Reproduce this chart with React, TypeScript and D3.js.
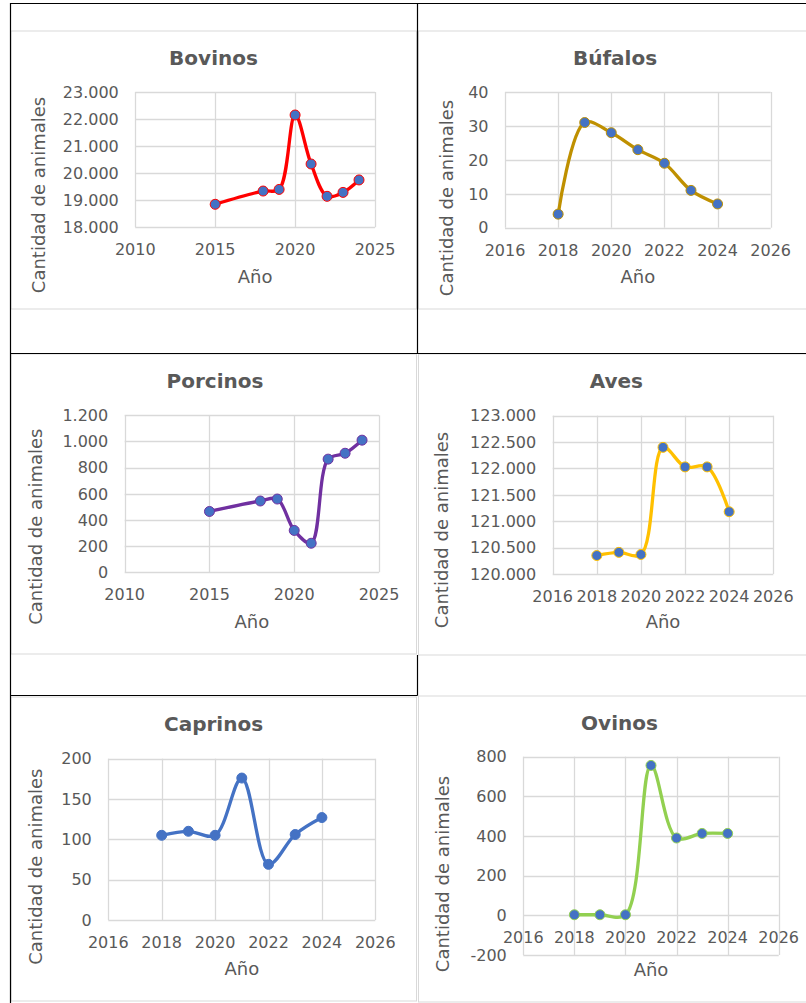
import React from "react";
import * as d3 from "d3";

// ---------- DATA ----------
const bovinosYears = [2015, 2018, 2019, 2020, 2021, 2022, 2023, 2024];
const bovinosValues = [18850, 19340, 19400, 22150, 20340, 19145, 19290, 19750];
const bovinosXTicks = [2010, 2015, 2020, 2025];
const bovinosYTicks = [18000, 19000, 20000, 21000, 22000, 23000];

const bufalosYears = [2018, 2019, 2020, 2021, 2022, 2023, 2024];
const bufalosValues = [4, 31, 28, 23, 19, 11, 7];
const bufalosXTicks = [2016, 2018, 2020, 2022, 2024, 2026];
const bufalosYTicks = [0, 10, 20, 30, 40];

const porcinosYears = [2015, 2018, 2019, 2020, 2021, 2022, 2023, 2024];
const porcinosValues = [465, 545, 560, 320, 222, 865, 910, 1010];
const porcinosXTicks = [2010, 2015, 2020, 2025];
const porcinosYTicks = [0, 200, 400, 600, 800, 1000, 1200];

const avesYears = [2018, 2019, 2020, 2021, 2022, 2023, 2024];
const avesValues = [120350, 120410, 120370, 122400, 122030, 122030, 121180];
const avesXTicks = [2016, 2018, 2020, 2022, 2024, 2026];
const avesYTicks = [120000, 120500, 121000, 121500, 122000, 122500, 123000];

const caprinosYears = [2018, 2019, 2020, 2021, 2022, 2023, 2024];
const caprinosValues = [105, 110, 105, 176, 69, 106, 127];
const caprinosXTicks = [2016, 2018, 2020, 2022, 2024, 2026];
const caprinosYTicks = [0, 50, 100, 150, 200];

const ovinosYears = [2018, 2019, 2020, 2021, 2022, 2023, 2024];
const ovinosValues = [3, 3, 3, 756, 390, 413, 413];
const ovinosXTicks = [2016, 2018, 2020, 2022, 2024, 2026];
const ovinosYTicks = [-200, 0, 200, 400, 600, 800];

const titles = ["Bovinos", "Búfalos", "Porcinos", "Aves", "Caprinos", "Ovinos"];
const xAxisTitle = "Año";
const yAxisTitle = "Cantidad de animales";

// ---------- STYLE / LAYOUT ----------
const FONT = "'DejaVu Sans', Verdana, sans-serif";
const TEXT = "#595959";
const GRID = "#d9d9d9";
const MARKER = "#4472c4";

const locale = d3.formatLocale({ decimal: ",", thousands: ".", grouping: [3], currency: ["", ""], minus: "-" });
const fmtY = locale.format(",d");
const fmtX = d3.format("d");

type Cfg = {
  title: string;
  years: number[];
  values: number[];
  xTicks: number[];
  yTicks: number[];
  color: string;
  box: [number, number, number, number];
  plot: [number, number, number, number];
  titlePos: [number, number];
  xTitleY: number;
  yTitlePos: [number, number];
};

const charts: Cfg[] = [
  {
    title: titles[0], years: bovinosYears, values: bovinosValues, xTicks: bovinosXTicks, yTicks: bovinosYTicks,
    color: "#ff0000", box: [11, 31, 416.5, 309], plot: [135.3, 92, 375, 227.3],
    titlePos: [213.5, 65], xTitleY: 283, yTitlePos: [44.5, 195],
  },
  {
    title: titles[1], years: bufalosYears, values: bufalosValues, xTicks: bufalosXTicks, yTicks: bufalosYTicks,
    color: "#bf9000", box: [418.5, 31, 812, 309], plot: [505, 92, 770.7, 227.7],
    titlePos: [615, 65], xTitleY: 283, yTitlePos: [452.5, 198],
  },
  {
    title: titles[2], years: porcinosYears, values: porcinosValues, xTicks: porcinosXTicks, yTicks: porcinosYTicks,
    color: "#7030a0", box: [11, 354, 416.5, 654], plot: [124.7, 415.3, 379, 572.3],
    titlePos: [215, 388], xTitleY: 627.7, yTitlePos: [41.5, 526.7],
  },
  {
    title: titles[3], years: avesYears, values: avesValues, xTicks: avesXTicks, yTicks: avesYTicks,
    color: "#ffc000", box: [418.5, 354, 812, 655], plot: [552.7, 415.7, 773.3, 574],
    titlePos: [616.3, 388], xTitleY: 628.3, yTitlePos: [448, 530],
  },
  {
    title: titles[4], years: caprinosYears, values: caprinosValues, xTicks: caprinosXTicks, yTicks: caprinosYTicks,
    color: "#4472c4", box: [11, 697, 416.5, 1001], plot: [108.3, 758.7, 375.3, 920],
    titlePos: [213.5, 731], xTitleY: 975, yTitlePos: [41.5, 866.7],
  },
  {
    title: titles[5], years: ovinosYears, values: ovinosValues, xTicks: ovinosXTicks, yTicks: ovinosYTicks,
    color: "#92d050", box: [418.5, 696, 812, 1002], plot: [523.3, 756.7, 778.7, 955],
    titlePos: [619.5, 730], xTitleY: 975.7, yTitlePos: [449, 874],
  },
];

function Chart({ c }: { c: Cfg }) {
  const [l, t, r, b] = c.plot;
  const x = d3.scaleLinear().domain([c.xTicks[0], c.xTicks[c.xTicks.length - 1]]).range([l, r]);
  const y = d3.scaleLinear().domain([c.yTicks[0], c.yTicks[c.yTicks.length - 1]]).range([b, t]);
  const pts: [number, number][] = c.years.map((yr, i) => [x(yr), y(c.values[i])]);
  const line = d3.line().curve(d3.curveCatmullRom.alpha(0.5))(pts) || "";
  const crossY = c.yTicks[0] < 0 ? y(0) : b;
  const [bx0, by0, bx1, by1] = c.box;
  return (
    <g>
      <rect x={bx0} y={by0} width={bx1 - bx0} height={by1 - by0} fill="#fff" stroke={GRID} strokeWidth={1} />
      <text x={c.titlePos[0]} y={c.titlePos[1]} textAnchor="middle" fontFamily={FONT} fontWeight="bold" fontSize={20} fill={TEXT}>
        {c.title}
      </text>
      {c.yTicks.map((v) => (
        <line key={"h" + v} x1={l} x2={r} y1={Math.round(y(v)) + 0.5} y2={Math.round(y(v)) + 0.5} stroke={GRID} strokeWidth={1.3} />
      ))}
      {c.xTicks.map((v) => (
        <line key={"v" + v} x1={Math.round(x(v)) + 0.5} x2={Math.round(x(v)) + 0.5} y1={t} y2={b} stroke={GRID} strokeWidth={1.3} />
      ))}
      {c.yTicks.map((v) => (
        <text key={"yl" + v} x={l - 16.5} y={y(v)} dy="0.36em" textAnchor="end" fontFamily={FONT} fontSize={16} fill={TEXT}>
          {fmtY(v)}
        </text>
      ))}
      {c.xTicks.map((v) => (
        <text key={"xl" + v} x={x(v)} y={crossY + 28} textAnchor="middle" fontFamily={FONT} fontSize={16} fill={TEXT}>
          {fmtX(v)}
        </text>
      ))}
      <text x={(l + r) / 2} y={c.xTitleY} textAnchor="middle" fontFamily={FONT} fontSize={18} fill={TEXT}>
        {xAxisTitle}
      </text>
      <text
        transform={`translate(${c.yTitlePos[0]},${c.yTitlePos[1]}) rotate(-90)`}
        textAnchor="middle" fontFamily={FONT} fontSize={18} fill={TEXT}
      >
        {yAxisTitle}
      </text>
      <path d={line} fill="none" stroke={c.color} strokeWidth={3.3} strokeLinejoin="round" strokeLinecap="round" />
      {pts.map((p, i) => (
        <circle key={"m" + i} cx={p[0]} cy={p[1]} r={5} fill={MARKER} stroke={c.color} strokeWidth={1} />
      ))}
    </g>
  );
}

export default function App() {
  return (
    <svg width={806} height={1003} style={{ position: "absolute", left: 0, top: 0, background: "#fff" }}>
      <rect x={0} y={0} width={806} height={1003} fill="#fff" />
      {charts.map((c) => (
        <Chart key={c.title} c={c} />
      ))}
      {/* table borders */}
      <g stroke="#000" strokeWidth={1.2}>
        <line x1={10} x2={806} y1={3.5} y2={3.5} />
        <line x1={10.5} x2={10.5} y1={3} y2={1003} />
        <line x1={417.5} x2={417.5} y1={3} y2={353.5} />
        <line x1={417.5} x2={417.5} y1={655} y2={695.5} />
        <line x1={10} x2={806} y1={353.5} y2={353.5} />
        <line x1={10} x2={417.5} y1={695.5} y2={695.5} />
      </g>
    </svg>
  );
}
